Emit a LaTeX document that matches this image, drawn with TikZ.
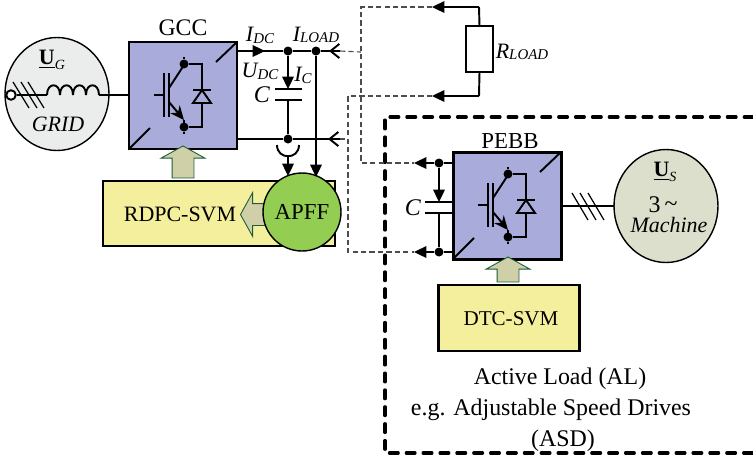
\documentclass[tikz,border=0pt]{standalone}
\usepackage{fontspec}
\setmainfont{Liberation Serif}
\usetikzlibrary{arrows.meta,shapes,positioning,calc}
\definecolor{cellblue}{HTML}{A9ACDB}
\definecolor{ctrlyellow}{HTML}{F4EF9C}
\definecolor{gridgray}{HTML}{EBEDEC}
\definecolor{machgray}{HTML}{DCDFCB}
\definecolor{apffgreen}{HTML}{93CE52}
\definecolor{fatfill}{HTML}{CFD0A8}
\definecolor{fatedge}{HTML}{1E5B3A}
\newcommand{\subI}[2]{\textit{#1{\fontsize{8.5}{9}\selectfont\raisebox{-1pt}{#2}}}}
\newcommand{\vecU}[1]{\underline{\textbf{U}}{\fontsize{8}{8}\selectfont\raisebox{-2.5pt}{\textit{#1}}}}

\begin{document}
\begin{tikzpicture}[x=0.02cm, y=-0.02cm, >=Stealth,
    font=\fontsize{12.5}{14}\selectfont,
    wire/.style={line width=1.1pt},
    thinwire/.style={line width=0.7pt},
    tip/.style={-{Triangle[length=7pt,width=6.5pt]}},
    link/.style={line width=0.65pt, draw=black!70, dash pattern=on 3pt off 1.8pt},
    cell/.style={draw, line width=1.2pt, fill=cellblue, outer sep=0pt,
                 minimum width=2.16cm, minimum height=2.14cm},
    ctrl/.style={draw, line width=1.2pt, fill=ctrlyellow, outer sep=0pt, align=center},
    disc/.style={draw, ellipse, line width=0.8pt, outer sep=0pt, inner sep=0pt,
                 minimum width=2.08cm, minimum height=2.26cm, align=center},
    dot/.style={circle, fill=black, inner sep=0pt, minimum size=0.18cm},
    bigtxt/.style={font=\fontsize{13.6}{15}\selectfont},
    fat/.style={single arrow, draw=fatedge, line width=0.5pt, fill=fatfill, inner sep=0pt,
                inner ysep=0.21cm, single arrow head extend=0.22cm,
                single arrow tip angle=122, single arrow head indent=0pt},
    pics/igbt/.style={code={
      \draw[wire] (25,53) -- (35,53);
      \draw[wire] (35,31) -- (35,75);
      \draw[wire] (40,31) -- (40,75);
      \draw[wire] (40,46) -- (55,23);
      \draw[wire,-{Stealth[length=8pt,width=7pt]}] (40,60) -- (55,78);
      \draw[wire] (55,78) -- (55,85);
      \node[dot] (-up) at (55,22) {};
      \node[dot] (-dn) at (55,85) {};
      \draw[wire] (55,15) -- (-up) -- (73,22) -- (73,85) -- (-dn) -- (55,92);
      \draw[wire,fill=cellblue] (64,61) -- (82,61) -- (73,48) -- cycle;
      \draw[wire] (64,48) -- (82,48);
      \draw[wire] (87,20) -- (108,0);
      \draw[wire] (0,107) -- (21,86);
    }}]
  \useasboundingbox (0,0) rectangle (753,457);

  %% Active load frame
  \coordinate (alne) at (753,117);
  \coordinate (alse) at (753,453);
  \coordinate (alnw) at (385,117);
  \draw[line width=1.8pt, dash pattern=on 5pt off 4.6pt, line cap=round]
    (alne) -- (alnw) |- (alse);

  %% Grid
  \node[disc, fill=gridgray] (grid) at (57,94) {};
  \node (ug) at (52,60) {\vecU{G}};
  \node (gridtxt) at (58,124) {\textit{GRID}};
  \node[circle, draw, line width=1.1pt, fill=white, inner sep=0pt, minimum size=0.19cm] (term) at (11,95) {};
  \coordinate (coilin) at (47,95);
  \coordinate (coilout) at (99,95);
  \draw[wire] (term) -- (coilin);
  \foreach \x in {47,60,73,86}
    \draw[wire] (\x,95) .. controls (\x,82) and ({\x+13},82) .. ({\x+13},95);
  \foreach \x in {13,21,28}
    \draw[thinwire] (\x,82) -- ({\x+16},108);

  %% GCC
  \node[cell] (gcc) at (183,95.5) {};
  \pic (gsw) at (129,42) {igbt};
  \node[font=\fontsize{13.5}{14}\selectfont] (gcctxt) at (183,28) {GCC};
  \draw[wire] (coilout) -- (coilout -| gcc.west);

  %% RDPC and APFF
  \node[ctrl, minimum width=4.64cm, minimum height=1.3cm] (rdpc) at (219,213.5) {};
  \node (rdpctxt) at (180,214) {RDPC-SVM};
  \node[fat, minimum height=0.64cm, rotate=90] (fatgcc) at (183,165) {};
  \node[fat, minimum height=0.5cm, rotate=180] (fatapff) at (256,214.5) {};

  %% DC link
  \coordinate (busin) at (237,51);
  \coordinate (busout) at (340,51);
  \coordinate (retin) at (237,139);
  \coordinate (retout) at (340,139);
  \node[dot] (ic) at (288,51) {};
  \node[dot] (il) at (316,51) {};
  \node[dot] (rt) at (288,139) {};
  \coordinate (idc) at (265,51);
  \draw[wire] (busin) -- (ic) -- (il) -- (busout);
  \draw[wire,tip] (busin) -- (idc);
  \draw[wire,-{Straight Barb[length=5pt,width=8pt]}] (busout) -- (329,51);
  \draw[wire] (retin) -- (rt) -- (retout);
  \draw[wire,-{Straight Barb[length=5pt,width=8pt]}] (retout) -- (328,139);

  %% Bus capacitor
  \coordinate (pt) at (288,89);
  \coordinate (pb) at (288,100);
  \draw[wire] (275,89) -- (302,89);
  \draw[wire] (275,100) -- (302,100);
  \draw[wire,tip] (ic) -- (pt);
  \draw[wire] (pb) -- (rt);
  \node[bigtxt] (ctxt) at (262,95) {\textit{C}};
  \node (ictxt) at (303,75) {\subI{I}{C}};
  \node (udctxt) at (260,71) {\subI{U}{DC}};
  \node (idctxt) at (260,35) {\subI{I}{DC}};
  \node (iltxt) at (316,35) {\subI{I}{LOAD}};

  %% Measurements into APFF
  \node[disc, fill=apffgreen, minimum width=1.56cm, minimum height=1.56cm, font=\fontsize{13}{14}\selectfont] (apff) at (302,212) {APFF};
  \coordinate (ct) at (288,156);
  \draw[wire] (277,145) .. controls (277,160) and (299,160) .. (299,145);
  \draw[wire,tip] (ct) -- (288,176);
  \draw[wire,tip] (il) -- (316,177);

  %% PEBB
  \node[cell] (pebb) at (507.5,206) {};
  \pic (psw) at (453,152) {igbt};
  \node[font=\fontsize{13}{14}\selectfont] (pebbtxt) at (510,141) {PEBB};
  \node[dot] (pu) at (439,163) {};
  \node[dot] (pd) at (439,252) {};
  \coordinate (puin) at (453,163);
  \coordinate (pdin) at (453,252);
  \coordinate (puout) at (414,163);
  \coordinate (pdout) at (414,252);
  \draw[wire,tip] (puin) -- (pu) -- (puout);
  \draw[wire,tip] (pdin) -- (pd) -- (pdout);
  \coordinate (qt) at (439,202);
  \coordinate (qb) at (439,213);
  \draw[wire] (425,202) -- (453,202);
  \draw[wire] (425,213) -- (453,213);
  \draw[wire,tip] (pu) -- (qt);
  \draw[wire] (qb) -- (pd);
  \node[bigtxt] (c2txt) at (413,208) {\textit{C}};

  %% Machine
  \node[disc, fill=machgray] (mach) at (666,206) {};
  \node (ustxt) at (665,172) {\vecU{S}};
  \node[bigtxt, inner sep=0pt] (threetxt) at (663,205) {3\,\raisebox{1pt}{\textasciitilde}};
  \node[inner sep=0pt] (machtxt) at (669,225) {\textit{Machine}};
  \draw[wire] (pebb) -- (mach);
  \foreach \x in {572,580,588}
    \draw[thinwire] (\x,193) -- ({\x+16},220);

  %% DTC
  \node[ctrl, minimum width=2.82cm, minimum height=1.32cm] (dtc) at (509,318) {};
  \node[font=\fontsize{12}{14}\selectfont] (dtctxt) at (511,319) {DTC-SVM};
  \node[fat, minimum height=0.5cm, rotate=90] (fatdtc) at (508,272.5) {};

  %% Load resistor
  \node[draw, wire, fill=white, outer sep=0pt, minimum width=0.54cm, minimum height=0.92cm] (rload) at (479.5,49) {};
  \node (rtxt) at (522,52) {\subI{R}{LOAD}};
  \coordinate (rtop) at (479,7);
  \coordinate (rbot) at (479,96);
  \coordinate (rta) at (432,7);
  \coordinate (rba) at (432,96);
  \draw[wire] (rload.north) -- (rtop);
  \draw[wire,tip] (rtop) -- (rta);
  \draw[wire] (rload.south) -- (rbot);
  \draw[wire,tip] (rbot) -- (rba);

  %% Dashed links
  \coordinate (lnk1) at (361,7);
  \coordinate (lnk2) at (361,163);
  \coordinate (lnk3) at (348,96);
  \coordinate (lnk4) at (348,252);
  \draw[link] (busout) -- (361,52);
  \draw[link] (rta) -- (lnk1) -- (lnk2) -- (puout);
  \draw[link] (rba) -- (lnk3) -- (lnk4) -- (pdout);
  \draw[link] (retout) -- (348,139);

  %% Active load text
  \node[bigtxt] (altxt1) at (560,379) {Active Load (AL)};
  \node[bigtxt] (altxt2) at (551,410) {e.g. Adjustable Speed Drives};
  \node[bigtxt] (altxt3) at (563,441) {(ASD)};
\end{tikzpicture}
\end{document}
